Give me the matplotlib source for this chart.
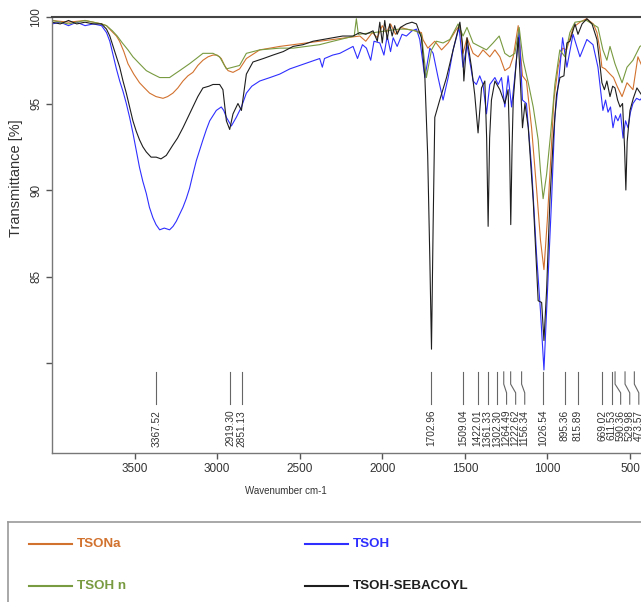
import matplotlib
matplotlib.use("Agg")
from matplotlib import pyplot as plt
import matplotlib.transforms as mtransforms

plt.rcParams['font.family'] = ['Liberation Sans', 'DejaVu Sans']

# --- spectra: wavenumber (cm-1) / transmittance (%) ---
tsona_wn = [4000, 3900, 3800, 3700, 3670, 3641, 3610, 3591, 3565, 3540, 3505, 3470, 3440, 3409,
            3370, 3328, 3300, 3268, 3238, 3207, 3177, 3147, 3117, 3086, 3055, 3025, 3000, 2975,
            2955, 2934, 2904, 2864, 2823, 2742, 2680, 2621, 2540, 2460, 2380, 2298, 2220, 2136,
            2100, 2060, 2030, 2000, 1975, 1950, 1920, 1890, 1854, 1800, 1763, 1754, 1724, 1682,
            1641, 1601, 1550, 1530, 1511, 1487, 1450, 1420, 1390, 1349, 1318, 1288, 1258, 1228,
            1207, 1177, 1151, 1127, 1096, 1066, 1042, 1021, 1001, 981, 961, 935, 908, 884, 844,
            803, 763, 722, 700, 682, 670, 650, 621, 600, 578, 548, 518, 482, 452, 420, 400]
tsona_t = [99.8, 99.7, 99.8, 99.6, 99.5, 99.2, 98.9, 98.6, 98.0, 97.3, 96.7, 96.2, 95.9, 95.6,
           95.4, 95.3, 95.4, 95.6, 95.9, 96.3, 96.6, 96.8, 97.2, 97.5, 97.7, 97.8, 97.8, 97.6,
           97.2, 96.9, 96.8, 97.0, 97.6, 98.1, 98.2, 98.3, 98.4, 98.5, 98.6, 98.7, 98.8, 98.9,
           98.6, 99.1, 98.8, 99.5, 99.1, 99.6, 99.0, 99.4, 99.3, 99.2, 99.1, 98.7, 98.2, 98.6,
           98.1, 98.5, 99.3, 99.5, 97.9, 98.8, 97.9, 97.7, 98.1, 97.7, 98.1, 97.7, 96.9, 97.1,
           97.7, 99.5, 96.6, 96.3, 93.6, 90.1, 87.1, 85.4, 88.2, 91.6, 95.2, 97.1, 98.2, 98.1, 99.4,
           99.7, 99.9, 99.6, 99.1, 98.1, 97.1, 97.0, 96.7, 96.5, 96.0, 95.4, 96.2, 95.8, 97.7, 97.0, 97.3]

tsoh_wn = [4000, 3950, 3900, 3850, 3800, 3750, 3700, 3670, 3650, 3630, 3610, 3590, 3570, 3550,
           3530, 3510, 3490, 3470, 3450, 3429, 3410, 3389, 3370, 3348, 3320, 3288, 3267, 3247,
           3227, 3207, 3187, 3167, 3147, 3126, 3106, 3086, 3065, 3045, 3025, 3005, 2975, 2960,
           2944, 2914, 2884, 2853, 2823, 2790, 2742, 2680, 2621, 2560, 2500, 2440, 2379, 2363,
           2350, 2300, 2257, 2177, 2150, 2120, 2096, 2070, 2050, 2015, 1990, 1970, 1950, 1934,
           1910, 1880, 1854, 1820, 1793, 1773, 1742, 1712, 1692, 1662, 1632, 1601, 1571, 1535,
           1511, 1487, 1450, 1430, 1410, 1390, 1369, 1349, 1318, 1298, 1278, 1258, 1238, 1217,
           1197, 1171, 1151, 1127, 1096, 1066, 1042, 1021, 995, 975, 955, 929, 908, 882, 845,
           803, 761, 724, 694, 664, 648, 633, 618, 603, 588, 573, 557, 542, 527, 512, 497, 482,
           460, 440, 400]
tsoh_t = [99.6, 99.7, 99.5, 99.7, 99.5, 99.6, 99.5, 99.1, 98.6, 97.8, 97.0, 96.3, 95.7, 95.0,
          94.2, 93.3, 92.3, 91.3, 90.5, 89.8, 89.0, 88.4, 88.0, 87.7, 87.8, 87.7, 87.9, 88.2,
          88.6, 89.0, 89.5, 90.1, 90.9, 91.7, 92.3, 92.9, 93.5, 94.0, 94.3, 94.6, 94.8, 94.6,
          94.2, 93.7, 94.2, 94.8, 95.6, 96.0, 96.3, 96.5, 96.7, 97.0, 97.2, 97.4, 97.6, 97.1,
          97.6, 97.8, 97.9, 98.3, 97.6, 98.4, 98.2, 97.5, 98.6, 98.5, 97.8, 98.9, 98.0, 98.8,
          98.3, 99.0, 98.9, 99.2, 99.3, 98.7, 96.5, 98.2, 97.9, 96.5, 95.2, 96.5, 98.1, 99.4,
          97.1, 98.4, 96.3, 96.1, 96.6, 96.1, 94.4, 96.1, 96.5, 96.1, 96.5, 94.8, 96.6, 94.8,
          96.6, 99.2, 95.2, 95.0, 91.3, 86.3, 83.0, 79.6, 85.2, 89.4, 94.2, 96.6, 98.8, 97.1, 99.0,
          97.7, 98.7, 98.4, 97.1, 94.6, 95.2, 94.5, 94.8, 93.6, 94.3, 94.0, 94.4, 93.0, 94.0, 93.6,
          94.5, 95.0, 95.3, 95.2, 95.6]

tsoh_n_wn = [4000, 3900, 3800, 3700, 3670, 3634, 3605, 3574, 3540, 3510, 3470, 3429, 3390, 3348,
             3318, 3288, 3258, 3227, 3197, 3167, 3126, 3086, 3025, 2985, 2944, 2904, 2864, 2823,
             2742, 2621, 2540, 2460, 2380, 2298, 2170, 2157, 2145, 2050, 1975, 1900, 1854, 1800,
             1763, 1733, 1702, 1672, 1632, 1591, 1541, 1511, 1487, 1450, 1410, 1369, 1329, 1292,
             1258, 1228, 1197, 1171, 1147, 1116, 1086, 1056, 1042, 1026, 1005, 981, 955, 925,
             894, 864, 833, 763, 694, 664, 640, 621, 591, 560, 548, 518, 482, 440, 400]
tsoh_n_t = [99.8, 99.6, 99.8, 99.6, 99.5, 99.2, 98.9, 98.5, 98.1, 97.7, 97.3, 96.9, 96.7, 96.5,
            96.5, 96.5, 96.7, 96.9, 97.1, 97.3, 97.6, 97.9, 97.9, 97.7, 97.0, 97.1, 97.2, 97.9,
            98.1, 98.2, 98.2, 98.3, 98.4, 98.6, 98.9, 99.9, 99.0, 99.1, 99.2, 99.3, 99.3, 99.2,
            99.0, 96.5, 98.1, 98.6, 98.5, 98.7, 99.6, 98.9, 99.4, 98.5, 98.3, 98.1, 98.5, 98.9,
            97.9, 97.7, 97.9, 99.4, 97.5, 96.2, 94.8, 92.9, 91.1, 89.5, 90.9, 93.2, 96.1, 98.1,
            97.7, 99.1, 99.7, 99.8, 99.4, 98.1, 97.5, 98.3, 97.3, 96.5, 96.2, 97.1, 97.5, 98.3, 98.5]

sebacoyl_wn = [4000, 3950, 3900, 3850, 3800, 3750, 3700, 3670, 3650, 3630, 3610, 3590, 3570, 3550,
               3530, 3510, 3490, 3470, 3450, 3429, 3400, 3369, 3340, 3308, 3288, 3268, 3240, 3207,
               3177, 3147, 3117, 3086, 3050, 3025, 2985, 2965, 2944, 2924, 2904, 2874, 2853, 2823,
               2783, 2720, 2662, 2600, 2540, 2480, 2419, 2360, 2298, 2240, 2177, 2136, 2100, 2056,
               2030, 2015, 2000, 1985, 1970, 1955, 1940, 1925, 1910, 1890, 1854, 1820, 1793, 1763,
               1742, 1725, 1712, 1702, 1692, 1682, 1652, 1611, 1571, 1530, 1515, 1506, 1487, 1460,
               1440, 1420, 1399, 1379, 1368, 1359, 1350, 1339, 1318, 1288, 1258, 1238, 1230, 1222,
               1214, 1207, 1177, 1160, 1151, 1136, 1116, 1086, 1056, 1035, 1021, 1005, 985, 965,
               945, 924, 900, 882, 864, 833, 815, 790, 761, 730, 700, 685, 670, 655, 640, 621, 605,
               591, 575, 560, 545, 533, 525, 517, 500, 480, 458, 430, 400]
sebacoyl_t = [99.7, 99.6, 99.8, 99.6, 99.7, 99.6, 99.6, 99.3, 98.9, 98.3, 97.7, 97.1, 96.3, 95.6,
              94.8, 94.0, 93.4, 92.9, 92.5, 92.2, 91.9, 91.9, 91.8, 92.0, 92.3, 92.6, 93.0, 93.6,
              94.2, 94.8, 95.4, 95.9, 96.0, 96.1, 96.1, 95.8, 94.0, 93.5, 94.4, 95.0, 94.6, 96.7,
              97.4, 97.6, 97.8, 98.0, 98.3, 98.4, 98.6, 98.7, 98.8, 98.9, 98.9, 99.1, 99.0, 99.2,
              98.6, 99.7, 98.5, 99.8, 98.7, 99.6, 98.9, 99.5, 99.0, 99.4, 99.6, 99.7, 99.6, 98.8,
              96.5, 92.0, 86.0, 80.8, 88.0, 94.2, 95.2, 96.5, 98.1, 99.7, 98.5, 96.3, 98.8, 97.1,
              95.5, 93.3, 95.9, 96.3, 93.0, 87.9, 93.0, 95.2, 96.3, 95.8, 95.0, 95.8, 93.0, 88.0,
              92.5, 95.2, 98.8, 95.5, 93.6, 95.0, 93.6, 89.4, 83.6, 83.5, 81.3, 84.2, 89.4, 92.9,
              95.5, 96.5, 96.6, 98.5, 98.6, 99.6, 99.0, 99.6, 99.9, 99.6, 98.7, 97.5, 96.2, 95.8,
              96.3, 95.4, 96.0, 95.9, 95.2, 94.8, 95.0, 92.5, 90.0, 92.8, 94.6, 95.3, 95.9, 95.5, 95.8]

peaks = [3367.52, 2919.30, 2851.13, 1702.96, 1509.04, 1422.01, 1361.33, 1302.30, 1264.49,
         1222.62, 1156.34, 1026.54, 895.36, 815.89, 669.02, 611.53, 590.36, 529.98, 473.57]

series = [
    ("TSONa", tsona_wn, tsona_t, "#D2722F"),
    ("TSOH", tsoh_wn, tsoh_t, "#2F2FFF"),
    ("TSOH n", tsoh_n_wn, tsoh_n_t, "#789A40"),
    ("TSOH-SEBACOYL", sebacoyl_wn, sebacoyl_t, "#1E1E1E"),
]

fig = plt.figure(figsize=(6.41, 6.02), dpi=100)
ax = fig.add_axes([52 / 641, 149 / 602, 594.5 / 641, 436 / 602])

for name, wn, t, color in series:
    ax.plot(wn, t, color=color, lw=0.8)

ax.set_xlim(4000, 400)
ax.set_ylim(74.8, 100)

ax.set_xticks([3500, 3000, 2500, 2000, 1500, 1000, 500])
ax.set_yticks([100, 95, 90, 85, 80])
ax.set_yticklabels(["100", "95", "90", "85", ""])
for lbl in ax.get_yticklabels():
    lbl.set_rotation(90)
    lbl.set_va("center")

ax.tick_params(axis="both", direction="out", length=4, width=1, color="#555555",
               labelcolor="#333333", labelsize=8.5, pad=3)
ax.tick_params(axis="y", pad=3)

for side in ["left", "bottom"]:
    ax.spines[side].set_color("#777777")
    ax.spines[side].set_linewidth(1)
ax.spines["top"].set_color("#444444")
ax.spines["top"].set_linewidth(1.5)
ax.spines["right"].set_visible(False)

ax.set_ylabel("Transmittance [%]", fontsize=10.5, color="#333333")
ax.yaxis.set_label_coords(-0.049, 0.63)
ax.set_xlabel("Wavenumber cm-1", fontsize=7, color="#333333")
ax.xaxis.set_label_coords(0.394, -0.076)

# peak markers, labels pushed apart where they crowd
tr = mtransforms.blended_transform_factory(ax.transData, ax.transAxes)
min_gap = 55
label_x = []
for p in peaks:
    x = p
    if label_x and label_x[-1] - x < min_gap:
        x = label_x[-1] - min_gap
    label_x.append(x)

for p, lx in zip(peaks, label_x):
    ax.plot([p, p, lx, lx], [0.186, 0.158, 0.138, 0.112], transform=tr,
            color="#666666", lw=0.8, clip_on=False)
    ax.text(lx, 0.099, f"{p:.2f}", transform=tr, rotation=90, ha="center", va="top",
            fontsize=7.3, color="#333333")

# legend box below the plot
leg = fig.add_axes([8 / 641, -20 / 602, 660 / 641, 100 / 602])
leg.set_xlim(8, 668)
leg.set_ylim(622, 522)
leg.set_xticks([])
leg.set_yticks([])
for s in leg.spines.values():
    s.set_color("#999999")
    s.set_linewidth(1.2)

legend_pos = [(29, 544), (305, 544), (29, 586), (305, 586)]
for (name, wn, t, color), (x0, y0) in zip(series, legend_pos):
    leg.plot([x0, x0 + 43], [y0, y0], color=color, lw=1.5)
    leg.text(x0 + 48, y0, name, color=color, fontsize=9.6, fontweight="bold", va="center")

fig.savefig("out.png", dpi=100)
